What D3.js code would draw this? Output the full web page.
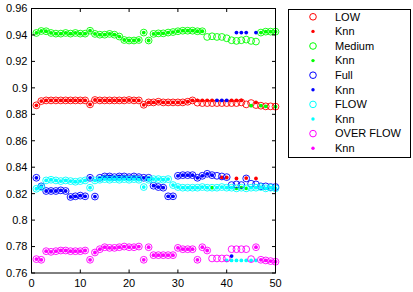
<!DOCTYPE html>
<html lang="en">
<head>
  <meta charset="UTF-8">
  <title>Knn classes</title>
  <style>
    body { margin: 0; background: #fff; }
    svg { display: block; font-family: "Liberation Sans", Arial, sans-serif; }
    .frame { fill: none; stroke: #000; stroke-width: 1; }
    .tick-label { font-size: 11px; fill: #000; }
    .legend-label { font-size: 11px; fill: #000; }
  </style>
</head>
<body>
<svg width="413" height="292"></svg>

<script src="https://d3js.org/d3.v7.min.js"></script>
<script>
  // sample index 1..50
  const xs = d3.range(1, 51);

  const xTicks = [0, 10, 20, 30, 40, 50];
  const yTicks = [0.76, 0.78, 0.8, 0.82, 0.84, 0.86, 0.88, 0.9, 0.92, 0.94, 0.96];
  const yTickLabels = ["0.76", "0.78", "0.8", "0.82", "0.84", "0.86", "0.88", "0.9", "0.92", "0.94", "0.96"];

  const legendLabels = ["LOW", "Knn", "Medium", "Knn", "Full", "Knn", "FLOW", "Knn", "OVER FLOW", "Knn"];

  // measured values (open circles)
  const low = [0.8868,0.8900,0.8905,0.8905,0.8905,0.8905,0.8905,0.8905,0.8905,0.8905,
               0.8905,0.8875,0.8908,0.8905,0.8905,0.8905,0.8905,0.8905,0.8905,0.8908,
               0.8905,0.8905,0.8872,0.8890,0.8890,0.8895,0.8890,0.8890,0.8890,0.8890,
               0.8890,0.8895,0.8905,0.8888,0.8885,0.8885,0.8885,0.8885,0.8885,0.8885,
               0.8885,0.8885,0.8890,0.8875,0.8885,0.8870,0.8865,0.8860,0.8860,0.8858];
  const medium = [0.9415,0.9430,0.9428,0.9415,0.9410,0.9410,0.9415,0.9410,0.9415,0.9410,
                  0.9410,0.9432,0.9408,0.9402,0.9402,0.9408,0.9402,0.9388,0.9362,0.9358,
                  0.9358,0.9362,0.9418,0.9358,0.9408,0.9412,0.9412,0.9418,0.9422,0.9428,
                  0.9432,0.9432,0.9432,0.9428,0.9428,0.9385,0.9390,0.9385,0.9385,0.9375,
                  0.9360,0.9355,0.9360,0.9365,0.9355,0.9350,0.9418,0.9425,0.9425,0.9425];
  const full = [0.8320,0.8255,0.8220,0.8220,0.8220,0.8225,0.8220,0.8175,0.8180,0.8185,
                0.8180,0.8320,0.8178,0.8320,0.8330,0.8330,0.8325,0.8330,0.8330,0.8325,
                0.8330,0.8325,0.8320,0.8320,0.8260,0.8250,0.8245,0.8180,0.8180,0.8335,
                0.8340,0.8340,0.8340,0.8320,0.8335,0.8350,0.8340,0.8335,0.8330,0.8325,
                0.8265,0.8270,0.8265,0.8315,0.8275,0.8270,0.8255,0.8255,0.8250,0.8250];
  const flow = [0.8237,0.8250,0.8300,0.8305,0.8300,0.8295,0.8300,0.8295,0.8290,0.8295,
                0.8300,0.8245,0.8300,0.8305,0.8310,0.8305,0.8310,0.8305,0.8310,0.8305,
                0.8310,0.8305,0.8250,0.8305,0.8310,0.8310,0.8305,0.8310,0.8265,0.8250,
                0.8245,0.8245,0.8245,0.8245,0.8250,0.8245,0.8245,0.8245,0.8250,0.8245,
                0.8245,0.8240,0.8245,0.8240,0.8245,0.8245,0.8250,0.8240,0.8245,0.8240];
  const overFlow = [0.7705,0.7700,0.7765,0.7760,0.7765,0.7770,0.7770,0.7765,0.7765,0.7765,
                    0.7770,0.7700,0.7755,0.7780,0.7795,0.7790,0.7790,0.7795,0.7800,0.7795,
                    0.7795,0.7800,0.7700,0.7795,0.7735,0.7735,0.7735,0.7735,0.7735,0.7790,
                    0.7780,0.7780,0.7780,0.7700,0.7795,0.7770,0.7710,0.7710,0.7710,0.7710,
                    0.7780,0.7780,0.7780,0.7780,0.7705,0.7795,0.7700,0.7695,0.7690,0.7685];

  // Knn dots, null = no dot at that sample
  const knnLow = [0.8868,0.8900,0.8905,0.8905,0.8905,0.8905,0.8905,0.8905,0.8905,0.8905,
                  0.8905,0.8875,0.8908,0.8905,0.8905,0.8905,0.8905,0.8905,0.8905,0.8908,
                  0.8905,0.8905,0.8872,0.8890,0.8890,0.8895,0.8890,0.8890,0.8890,0.8890,
                  0.8890,0.8895,0.8905,0.8905,0.8905,0.8905,0.8905,null,null,null,
                  0.8905,0.8905,0.8905,null,null,0.8890,null,null,null,null];
  const knnMedium = [0.9415,0.9430,0.9428,0.9415,0.9410,0.9410,0.9415,0.9410,0.9415,0.9410,
                     0.9410,0.9432,0.9408,0.9402,0.9402,0.9408,0.9402,0.9388,0.9362,0.9358,
                     0.9358,0.9362,0.9418,0.9358,0.9408,0.9412,0.9412,0.9418,0.9422,0.9428,
                     0.9432,0.9432,0.9432,0.9428,0.9428,null,null,null,null,null,
                     null,null,null,null,null,null,0.9418,0.9425,0.9425,0.9425];
  const knnFull = [0.8320,0.8255,0.8220,0.8220,0.8220,0.8225,0.8220,0.8175,0.8180,0.8185,
                   0.8180,0.8320,0.8178,0.8320,0.8330,0.8330,0.8325,0.8330,0.8330,0.8325,
                   0.8330,0.8325,0.8320,0.8320,0.8260,0.8250,0.8245,0.8180,0.8180,0.8335,
                   0.8340,0.8340,0.8340,0.8320,0.8335,0.8350,0.8340,null,null,null,
                   null,null,null,null,null,null,null,null,null,null];
  const knnFlow = [0.8237,0.8250,0.8300,0.8305,0.8300,0.8295,0.8300,0.8295,0.8290,0.8295,
                   0.8300,0.8245,0.8300,0.8305,0.8310,0.8305,0.8310,0.8305,0.8310,0.8305,
                   0.8310,0.8305,0.8250,0.8305,0.8310,0.8310,0.8305,0.8310,0.8265,0.8250,
                   0.8245,0.8245,0.8245,0.8245,0.8250,0.8245,null,0.8245,0.8250,0.8245,
                   0.8245,null,null,null,0.8245,0.8245,0.8250,0.8240,0.8245,0.8240];
  const knnOverFlow = [0.7705,0.7700,0.7765,0.7760,0.7765,0.7770,0.7770,0.7765,0.7765,0.7765,
                       0.7770,0.7700,0.7755,0.7780,0.7795,0.7790,0.7790,0.7795,0.7800,0.7795,
                       0.7795,0.7800,0.7700,0.7795,0.7735,0.7735,0.7735,0.7735,0.7735,0.7790,
                       0.7780,0.7780,0.7780,0.7700,0.7795,0.7770,null,null,null,null,
                       null,null,null,null,null,0.7795,0.7700,0.7695,0.7690,0.7685];

  // Knn dots that landed on another class' band: [x, y]
  const knnLowOff = [[39, 0.8322], [40, 0.8322], [42, 0.8315], [44, 0.8318], [46, 0.8315]];
  const knnMediumOff = [[45, 0.8865], [47, 0.8865], [48, 0.8860], [50, 0.8858],
                        [37, 0.8245], [42, 0.8240], [43, 0.8245], [44, 0.8240]];
  const knnFullOff = [[38, 0.8905], [39, 0.8905], [40, 0.8905], [42, 0.9418], [43, 0.9418],
                      [44, 0.9418], [46, 0.9418], [41, 0.7728]];
  const knnFlowOff = [[40, 0.7695], [41, 0.7695], [42, 0.7695], [43, 0.7695], [44, 0.7695],
                      [45, 0.7695], [46, 0.7695]];
  const knnOverFlowOff = [];

  const colors = ["#ff0000", "#00ff00", "#0000ff", "#00ffff", "#ff00ff"];

  const classes = [
    { circles: low, knn: knnLow, off: knnLowOff },
    { circles: medium, knn: knnMedium, off: knnMediumOff },
    { circles: full, knn: knnFull, off: knnFullOff },
    { circles: flow, knn: knnFlow, off: knnFlowOff },
    { circles: overFlow, knn: knnOverFlow, off: knnOverFlowOff }
  ];

  const svg = d3.select("svg");
  const plotLeft = 31.5, plotRight = 275.5, plotTop = 8.5, plotBottom = 273;

  const x = d3.scaleLinear().domain([0, 50]).range([plotLeft, plotRight]);
  const y = d3.scaleLinear().domain([0.76, 0.96]).range([plotBottom, plotTop]);

  const tickLen = 3.5;
  const plot = svg.append("g");
  const axes = svg.append("g");

  // ticks inside the box, on all four sides
  xTicks.forEach(t => {
    axes.append("line").attr("x1", x(t)).attr("x2", x(t)).attr("y1", plotBottom).attr("y2", plotBottom - tickLen).attr("stroke", "#000");
    axes.append("line").attr("x1", x(t)).attr("x2", x(t)).attr("y1", plotTop).attr("y2", plotTop + tickLen).attr("stroke", "#000");
    axes.append("text")
      .attr("class", "tick-label")
      .attr("x", x(t))
      .attr("y", plotBottom + 13.5)
      .attr("text-anchor", "middle")
      .text(t);
  });

  yTicks.forEach((t, i) => {
    axes.append("line").attr("x1", plotLeft).attr("x2", plotLeft + tickLen).attr("y1", y(t)).attr("y2", y(t)).attr("stroke", "#000");
    axes.append("line").attr("x1", plotRight).attr("x2", plotRight - tickLen).attr("y1", y(t)).attr("y2", y(t)).attr("stroke", "#000");
    axes.append("text")
      .attr("class", "tick-label")
      .attr("x", plotLeft - 4)
      .attr("y", y(t))
      .attr("dy", "0.35em")
      .attr("text-anchor", "end")
      .text(yTickLabels[i]);
  });

  // same order as the legend: circles then the Knn dots of each class
  classes.forEach((c, k) => {
    plot.append("g").selectAll("circle")
      .data(xs)
      .join("circle")
      .attr("cx", d => x(d))
      .attr("cy", (d, i) => y(c.circles[i]))
      .attr("r", 3.4)
      .attr("fill", "none")
      .attr("stroke", colors[k])
      .attr("stroke-width", 0.9);

    const dots = xs.map((d, i) => [d, c.knn[i]]).filter(p => p[1] !== null).concat(c.off);
    plot.append("g").selectAll("circle")
      .data(dots)
      .join("circle")
      .attr("cx", d => x(d[0]))
      .attr("cy", d => y(d[1]))
      .attr("r", 1.9)
      .attr("fill", colors[k]);
  });

  axes.append("rect")
    .attr("class", "frame")
    .attr("x", plotLeft)
    .attr("y", plotTop)
    .attr("width", plotRight - plotLeft)
    .attr("height", plotBottom - plotTop);

  // legend box
  const legend = svg.append("g");
  legend.append("rect")
    .attr("x", 288.5)
    .attr("y", 9.5)
    .attr("width", 122)
    .attr("height", 148)
    .attr("fill", "#fff")
    .attr("stroke", "#000");

  legendLabels.forEach((label, i) => {
    const ly = 16.8 + i * 14.6;
    const col = colors[Math.floor(i / 2)];
    if (i % 2 === 0) {
      legend.append("circle").attr("cx", 313).attr("cy", ly).attr("r", 3.3)
        .attr("fill", "none").attr("stroke", col).attr("stroke-width", 1);
    } else {
      legend.append("circle").attr("cx", 313).attr("cy", ly).attr("r", 1.7).attr("fill", col);
    }
    legend.append("text")
      .attr("class", "legend-label")
      .attr("x", 335)
      .attr("y", ly)
      .attr("dy", "0.35em")
      .text(label);
  });
</script>
</body>
</html>
